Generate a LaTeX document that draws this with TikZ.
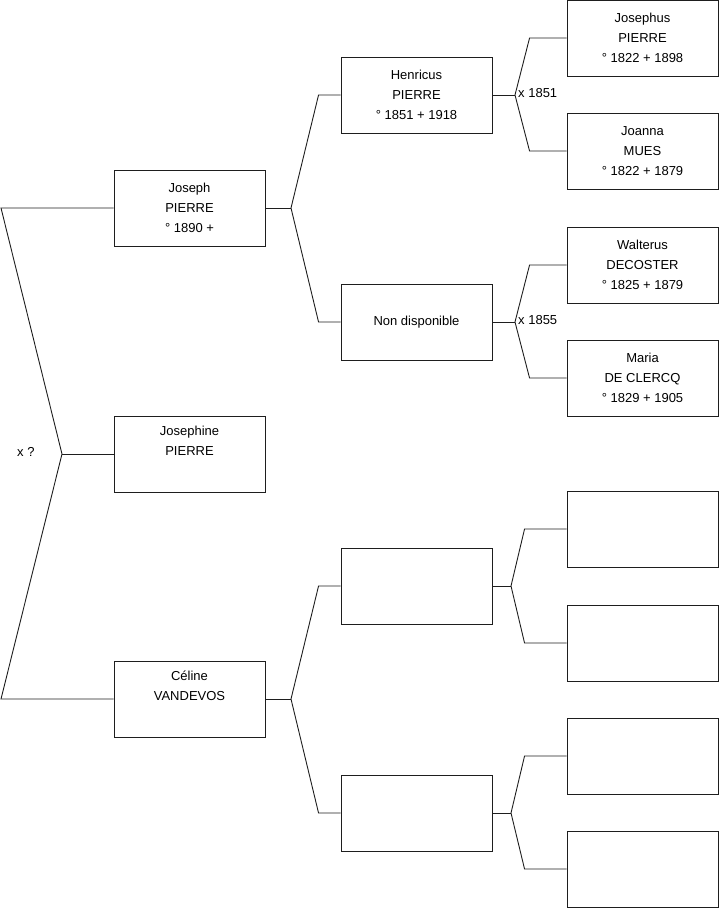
\documentclass[tikz,border=0pt]{standalone}
\usepackage{fontspec}
\setmainfont{Liberation Sans}
\usepackage{tikz}
\usetikzlibrary{positioning}
\definecolor{inkline}{HTML}{1E1E1E}
\tikzset{
  person/.style={draw=inkline, line width=0.9pt, rectangle, minimum width=151pt,
                 minimum height=76pt, inner sep=0pt, align=center,
                 font=\fontsize{13}{20}\selectfont},
  link/.style={draw=inkline, line width=0.9pt},
  union/.style={anchor=west, inner sep=0pt, font=\fontsize{13}{20}\selectfont},
}

\begin{document}
\begin{tikzpicture}[x=1pt, y=-1pt]
\useasboundingbox (0,0) rectangle (719,908);
% generation 1
\node[person] (jo)  at (189.5,208) {Joseph\\PIERRE\\° 1890 +};
\node[person] (jne) at (189.5,454) {Josephine\\PIERRE\\\strut};
\node[person] (ce)  at (189.5,699) {Céline\\VANDEVOS\\\strut};
% generation 2
\node[person] (he)  at (416.5,95)  {Henricus\\PIERRE\\° 1851 + 1918};
\node[person] (nd)  at (416.5,322) {Non disponible};
\node[person] (cf)  at (416.5,586) {};
\node[person] (cm)  at (416.5,813) {};
% generation 3
\node[person] (jus) at (642.5,38)  {Josephus\\PIERRE\\° 1822 + 1898};
\node[person] (jan) at (642.5,151) {Joanna\\MUES\\° 1822 + 1879};
\node[person] (wa)  at (642.5,265) {Walterus\\DECOSTER\\° 1825 + 1879};
\node[person] (ma)  at (642.5,378) {Maria\\DE CLERCQ\\° 1829 + 1905};
\node[person] (cff) at (642.5,529) {};
\node[person] (cfm) at (642.5,643) {};
\node[person] (cmf) at (642.5,756) {};
\node[person] (cmm) at (642.5,869) {};
% junctions
\coordinate (top)  at (1,208);
\coordinate (mid)  at (62,454);
\coordinate (bot)  at (1,699);
\coordinate (kjo)  at (291,208);
\coordinate (kce)  at (291,699);
\coordinate (khe)  at (515,95);
\coordinate (knd)  at (515,322);
\coordinate (kcf)  at (511,586);
\coordinate (kcm)  at (511,813);
% marriage labels
\node[union] (m0) at (17,452)  {x ?};
\node[union] (m1) at (518,93)  {x 1851};
\node[union] (m2) at (518,320) {x 1855};
% lines
\draw[link] (jo.west) -- (top) -- (mid) -- (bot) -- (ce.west);
\draw[link] (mid) -- (jne.west);
\draw[link] (jo.east) -- (kjo);
\draw[link] (he.west) -- ++(-22,0) -- (kjo) -- ([xshift=-22pt]nd.west) -- (nd.west);
\draw[link] (ce.east) -- (kce);
\draw[link] (cf.west) -- ++(-22,0) -- (kce) -- ([xshift=-22pt]cm.west) -- (cm.west);
\draw[link] (he.east) -- (khe);
\draw[link] (jus.west) -- ++(-37,0) -- (khe) -- ([xshift=-37pt]jan.west) -- (jan.west);
\draw[link] (nd.east) -- (knd);
\draw[link] (wa.west) -- ++(-37,0) -- (knd) -- ([xshift=-37pt]ma.west) -- (ma.west);
\draw[link] (cf.east) -- (kcf);
\draw[link] (cff.west) -- ++(-42,0) -- (kcf) -- ([xshift=-42pt]cfm.west) -- (cfm.west);
\draw[link] (cm.east) -- (kcm);
\draw[link] (cmf.west) -- ++(-42,0) -- (kcm) -- ([xshift=-42pt]cmm.west) -- (cmm.west);
\end{tikzpicture}
\end{document}
